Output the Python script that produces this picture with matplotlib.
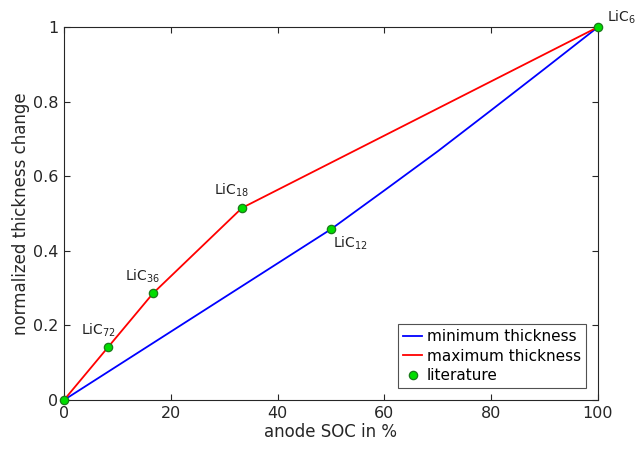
import matplotlib
matplotlib.use('Agg')
import matplotlib.pyplot as plt

plt.rcParams['font.family'] = 'DejaVu Sans'
plt.rcParams['mathtext.fontset'] = 'dejavusans'

# data
soc_min = [0, 50, 60, 70, 80, 90, 100]
thick_min = [0, 0.458, 0.562, 0.667, 0.777, 0.888, 1.0]

soc_max = [0, 8.33, 16.67, 33.33, 100]
thick_max = [0, 0.143, 0.286, 0.515, 1.0]

lit_soc = [0, 8.33, 16.67, 33.33, 50, 100]
lit_thick = [0, 0.143, 0.286, 0.515, 0.458, 1.0]
lit_names = ['', 'LiC$_{72}$', 'LiC$_{36}$', 'LiC$_{18}$', 'LiC$_{12}$', 'LiC$_{6}$']

fig = plt.figure(figsize=(6.35, 4.51), dpi=100)
ax = fig.add_axes([0.1008, 0.1131, 0.8409, 0.8269])

ax.plot(soc_min, thick_min, color='#0000ff', lw=1.3, label='minimum thickness')
ax.plot(soc_max, thick_max, color='#ff0000', lw=1.3, label='maximum thickness')
ax.plot(lit_soc, lit_thick, 'o', color='#00dd00', mec='#1a7a1a', mew=0.9, ms=6,
        ls='none', label='literature', zorder=5, clip_on=False)

# labels next to the literature points
offsets = {1: (-20, 12), 2: (-20, 12), 3: (-20, 12.5), 4: (1.5, -10), 5: (6.5, 7)}
for i, name in enumerate(lit_names):
    if not name:
        continue
    dx, dy = offsets[i]
    ax.annotate(name, (lit_soc[i], lit_thick[i]), textcoords='offset points',
                xytext=(dx, dy), fontsize=10, color='#222222',
                ha='left', va='center', annotation_clip=False)

ax.set_xlim(0, 100)
ax.set_ylim(0, 1)
ax.set_xticks([0, 20, 40, 60, 80, 100])
ax.set_yticks([0, 0.2, 0.4, 0.6, 0.8, 1])
ax.set_yticklabels(['0', '0.2', '0.4', '0.6', '0.8', '1'])
ax.tick_params(direction='in', top=True, right=True, length=4, width=0.8,
               labelsize=11.5, colors='#262626', pad=4)
for sp in ax.spines.values():
    sp.set_color('#262626')
    sp.set_linewidth(0.8)

ax.set_xlabel('anode SOC in %', fontsize=12, color='#262626', labelpad=2)
ax.set_ylabel('normalized thickness change', fontsize=12, color='#262626', labelpad=2)

leg = ax.legend(loc='lower right', fontsize=11, frameon=True, fancybox=False,
                edgecolor='#262626', handlelength=1.3, handletextpad=0.3,
                borderpad=0.3, labelspacing=0.3, borderaxespad=0.8)
leg.get_frame().set_linewidth(0.8)

fig.savefig('out.png', dpi=100, facecolor='white')
